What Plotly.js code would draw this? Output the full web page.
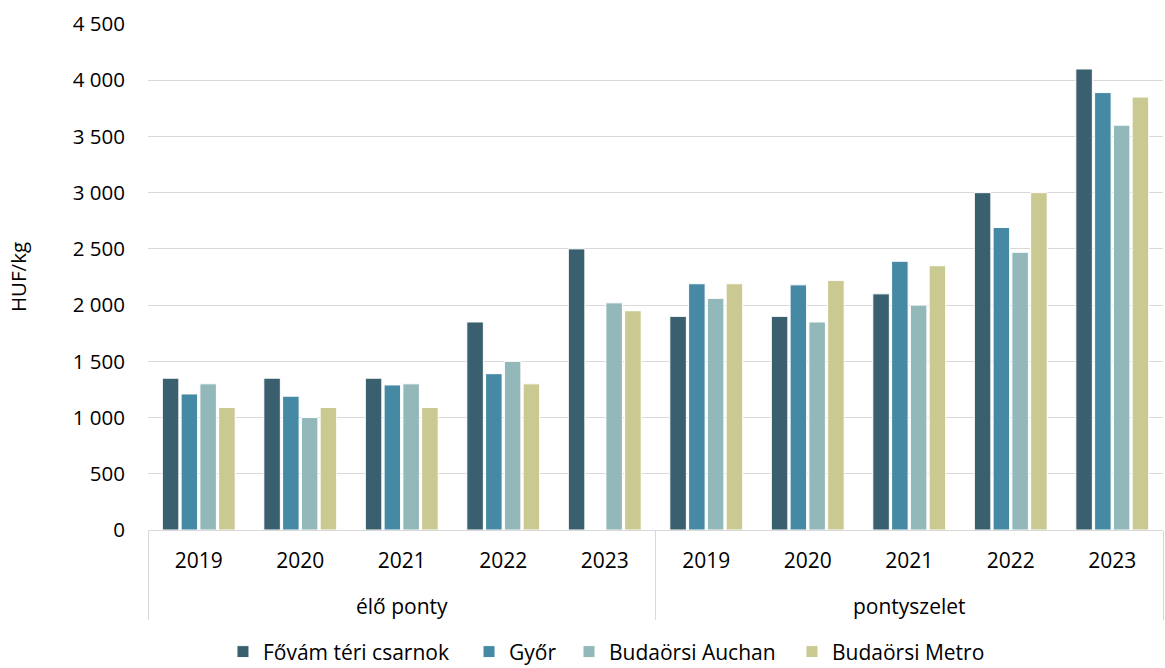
<!DOCTYPE html>
<html>
<head>
<meta charset="utf-8">
<script src="https://cdn.plot.ly/plotly-3.0.1.min.js"></script>
<style>html,body{margin:0;padding:0;background:#fff;}#chart{width:1165px;height:668px;}</style>
</head>
<body>
<div id="chart"></div>
<script>
var groups = ["<br>élő ponty","<br>élő ponty","<br>élő ponty","<br>élő ponty","<br>élő ponty","<br>pontyszelet","<br>pontyszelet","<br>pontyszelet","<br>pontyszelet","<br>pontyszelet"];
var years = ["2019","2020","2021","2022","2023","2019","2020","2021","2022","2023"];
var seriesNames = ["Fővám téri csarnok","Győr","Budaörsi Auchan","Budaörsi Metro"];
var fovam   = [1350, 1350, 1350, 1850, 2500, 1900, 1900, 2100, 3000, 4100];
var gyor    = [1210, 1190, 1290, 1390, null, 2190, 2180, 2390, 2690, 3890];
var auchan  = [1300, 1000, 1300, 1500, 2020, 2060, 1850, 2000, 2470, 3600];
var metro   = [1090, 1090, 1090, 1300, 1950, 2190, 2220, 2350, 3000, 3850];
var colors = ["#3a5f6e","#4589a5","#92b8ba","#c9c991"];
var legendIds = ["legend","legend2","legend3","legend4"];
var legendX = [0.1914, 0.4026, 0.4884, 0.6798];

var FONT = "'Open Sans', 'DejaVu Sans', sans-serif";
var allSeries = [fovam, gyor, auchan, metro];
var data = allSeries.map(function(vals, i){
  return {
    type: 'bar',
    name: seriesNames[i],
    legend: legendIds[i],
    x: [groups, years],
    y: vals,
    marker: {color: colors[i], line: {color: '#ffffff', width: 1}},
    hoverinfo: 'y'
  };
});

var layout = {
  width: 1165, height: 668,
  margin: {l: 148, r: 2, t: 24, b: 138},
  paper_bgcolor: '#ffffff', plot_bgcolor: '#ffffff',
  barmode: 'group', bargap: 0.26, bargroupgap: 0.12,
  separators: ', ',
  font: {family: FONT, size: 21, color: '#000000'},
  showlegend: true,
  xaxis: {
    type: 'multicategory',
    showgrid: false,
    showline: true, linecolor: '#d9d9d9', linewidth: 1,
    showdividers: true, dividercolor: '#d9d9d9', dividerwidth: 1,
    tickfont: {family: FONT, size: 21, color: '#000'},
    ticks: '', zeroline: false,
    ticklabelstandoff: 12
  },
  yaxis: {
    range: [0, 4500], dtick: 500, tick0: 0,
    tickformat: ',d',
    showgrid: true, gridcolor: '#d9d9d9', gridwidth: 1,
    zeroline: false, showline: false, ticks: '',
    ticklabelstandoff: 22,
    tickfont: {family: FONT, size: 20.5, color: '#000'},
    title: {text: 'HUF/kg', font: {family: FONT, size: 20.5, color: '#000'}, standoff: 40}
  }
};
legendIds.forEach(function(id, i){
  layout[id] = {orientation: 'h', xref: 'container', x: legendX[i], xanchor: 'left',
                yref: 'container', y: 0.024, yanchor: 'middle',
                font: {family: FONT, size: 21, color: '#000'}, itemclick: false,
                bgcolor: 'rgba(0,0,0,0)'};
});

Plotly.newPlot('chart', data, layout, {displayModeBar: false, staticPlot: true});
</script>
</body>
</html>
